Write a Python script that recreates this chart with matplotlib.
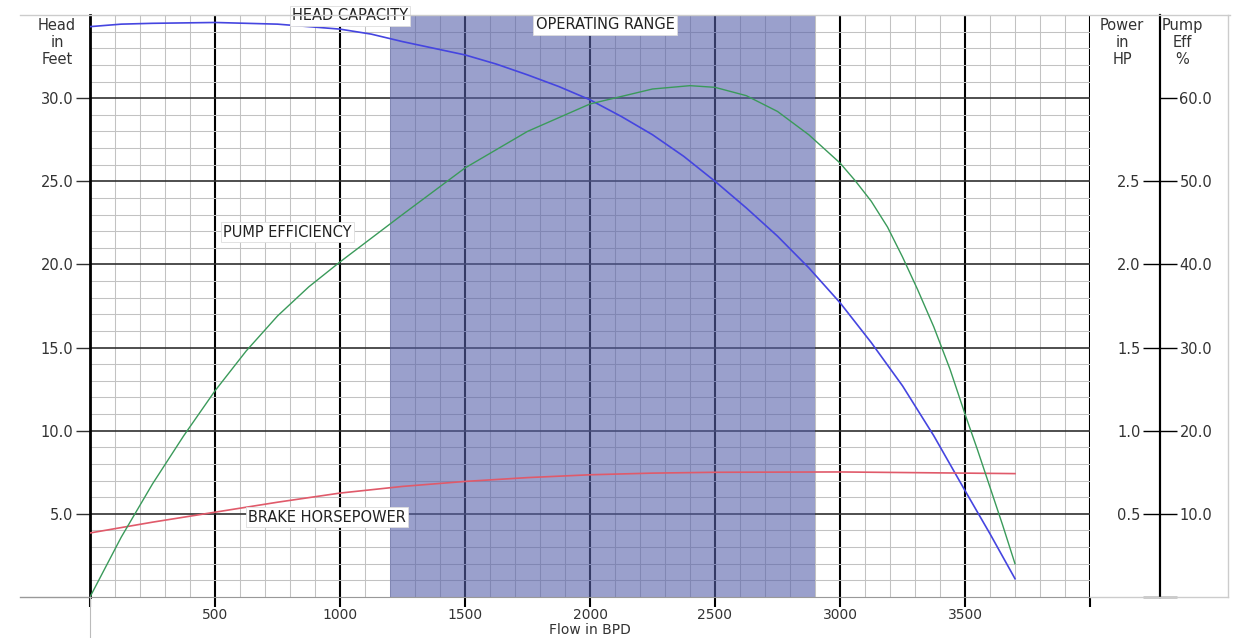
import numpy as np
import matplotlib.pyplot as plt
from matplotlib.lines import Line2D
from matplotlib.ticker import MultipleLocator, FixedLocator, FixedFormatter

plt.rcParams['font.family'] = ['DejaVu Sans']

# values
head_flow = [0, 125, 250, 500, 750, 1000, 1125, 1250, 1375, 1500, 1625, 1750,
             1875, 2000, 2125, 2250, 2375, 2500, 2625, 2750, 2875, 3000, 3125,
             3250, 3375, 3500, 3600, 3700]
head_ft = [34.3, 34.45, 34.5, 34.55, 34.45, 34.15, 33.85, 33.4, 33.0, 32.6,
           32.05, 31.4, 30.7, 29.9, 28.9, 27.8, 26.5, 25.0, 23.4, 21.7, 19.8,
           17.7, 15.3, 12.7, 9.7, 6.4, 3.8, 1.1]

eff_flow = [0, 125, 250, 375, 500, 625, 750, 875, 1000, 1250, 1500, 1750,
            2000, 2250, 2400, 2500, 2625, 2750, 2875, 3000, 3060, 3125, 3190,
            3250, 3310, 3375, 3440, 3500, 3550, 3600, 3650, 3700]
eff_pct = [0, 7.2, 13.6, 19.4, 24.8, 29.6, 33.8, 37.3, 40.3, 46.0, 51.6, 56.0,
           59.3, 61.1, 61.5, 61.3, 60.3, 58.4, 55.6, 52.2, 50.1, 47.6, 44.5,
           40.9, 37.0, 32.5, 27.4, 22.0, 17.7, 13.2, 8.7, 4.0]

bhp_flow = [0, 250, 500, 750, 1000, 1250, 1500, 1750, 2000, 2250, 2500,
            3000, 3500, 3700]
bhp_hp = [0.385, 0.45, 0.51, 0.57, 0.625, 0.665, 0.695, 0.718, 0.735, 0.745,
          0.75, 0.752, 0.745, 0.742]

op_range = (1200, 2900)

x_ticks = [0, 500, 1000, 1500, 2000, 2500, 3000, 3500, 4000]
x_labels = ['', '500', '1000', '1500', '2000', '2500', '3000', '3500', '']
head_ticks = [5.0, 10.0, 15.0, 20.0, 25.0, 30.0]
power_ticks = [0, 0.5, 1.0, 1.5, 2.0, 2.5]
eff_ticks = [0, 10, 20, 30, 40, 50, 60]

FS = 10.5
TXT = '#333333'

W, H = 1237, 638
fig = plt.figure(figsize=(W / 100, H / 100), dpi=100)
ax = fig.add_axes([90 / W, 1 - 597 / H, 1000 / W, 582 / H])

ax.set_xlim(0, 4000)
ax.set_ylim(0, 35)
ax.xaxis.set_major_locator(FixedLocator(x_ticks))
ax.xaxis.set_major_formatter(FixedFormatter(x_labels))
ax.xaxis.set_minor_locator(MultipleLocator(100))
ax.yaxis.set_major_locator(MultipleLocator(5))
ax.yaxis.set_minor_locator(MultipleLocator(1))
ax.set_axisbelow(True)
ax.grid(which='minor', color='#c2c2c2', lw=0.75)
ax.grid(which='major', axis='x', color='black', lw=1.5)
ax.grid(which='major', axis='y', color='#303030', lw=1.2)

ax.set_yticks(head_ticks)
ax.set_yticklabels(['%.1f' % v for v in head_ticks])
ax.yaxis.set_minor_locator(MultipleLocator(1))
ax.tick_params(axis='y', which='major', length=10, width=1, color='#303030',
               labelsize=FS, labelcolor=TXT, pad=2)
ax.tick_params(axis='x', which='major', length=7, width=1.5, color='black',
               labelsize=10, labelcolor=TXT, pad=1)
ax.tick_params(which='minor', length=0)
for s in ['top', 'right']:
    ax.spines[s].set_visible(False)
ax.spines['left'].set_linewidth(2)
ax.spines['bottom'].set_color('#999999')

ax.axvspan(*op_range, color='#5761aa', alpha=0.6, lw=0, zorder=1)
ax.plot(head_flow, head_ft, color='#4545e0', lw=1.2, zorder=3)

# power axis (labels on the left of the shared right spine)
axp = ax.twinx()
axp.set_ylim(0, 3.5)
for s in ['top', 'right', 'bottom']:
    axp.spines[s].set_visible(False)
axp.spines['left'].set_position(('axes', 1.07))
axp.spines['left'].set_linewidth(1.5)
axp.yaxis.tick_left()
axp.set_yticks(power_ticks)
axp.set_yticklabels([''] + ['%.1f' % v for v in power_ticks[1:]])
axp.tick_params(axis='y', length=12, width=1, labelsize=FS,
                labelcolor=TXT, pad=2)
axp.plot(bhp_flow, bhp_hp, color='#e05a6a', lw=1.2)

# efficiency axis (labels on the right)
axe = ax.twinx()
axe.set_ylim(0, 70)
for s in ['top', 'left', 'bottom']:
    axe.spines[s].set_visible(False)
axe.spines['right'].set_position(('axes', 1.07))
axe.spines['right'].set_linewidth(1.5)
axe.set_yticks(eff_ticks)
axe.set_yticklabels([''] + ['%.1f' % v for v in eff_ticks[1:]])
axe.tick_params(axis='y', length=12, width=1, labelsize=FS,
                labelcolor=TXT, pad=2)
axe.plot(eff_flow, eff_pct, color='#3a9a5a', lw=1.0)

box = dict(boxstyle='square,pad=0.15', fc='white', ec='#dddddd', lw=0.6)
labels = [('HEAD CAPACITY', 1040, 34.95), ('OPERATING RANGE', 2060, 34.4),
          ('PUMP EFFICIENCY', 790, 21.95), ('BRAKE HORSEPOWER', 948, 4.8)]
for txt, xx, yy in labels:
    axe.text(xx, yy, txt, transform=ax.transData, ha='center', va='center',
             fontsize=FS, color='#222222', bbox=box, zorder=5)

# axis titles
fig.text(590 / W, 1 - 630 / H, 'Flow in BPD', ha='center', va='center',
         fontsize=10, color=TXT)
fig.text(57 / W, 1 - 18 / H, 'Head\nin\nFeet', ha='center', va='top',
         fontsize=FS, color=TXT, linespacing=1.15)
fig.text(1122 / W, 1 - 18 / H, 'Power\nin\nHP', ha='center', va='top',
         fontsize=FS, color=TXT, linespacing=1.15)
fig.text(1182 / W, 1 - 18 / H, 'Pump\nEff\n%', ha='center', va='top',
         fontsize=FS, color=TXT, linespacing=1.15)

# light outer frame
frame = '#cccccc'
fig.add_artist(Line2D([20 / W, 1230 / W], [1 - 15 / H] * 2, color=frame, lw=1))
fig.add_artist(Line2D([20 / W, 90 / W], [1 - 597 / H] * 2, color='#999999', lw=1))
fig.add_artist(Line2D([1090 / W, 1228 / W], [1 - 597 / H] * 2, color=frame, lw=1))
fig.add_artist(Line2D([1228 / W] * 2, [1 - 15 / H, 1 - 597 / H], color=frame, lw=1))
fig.add_artist(Line2D([90 / W] * 2, [0, 1 - 597 / H], color='#bbbbbb', lw=0.8))

fig.savefig('out.png', dpi=100)
